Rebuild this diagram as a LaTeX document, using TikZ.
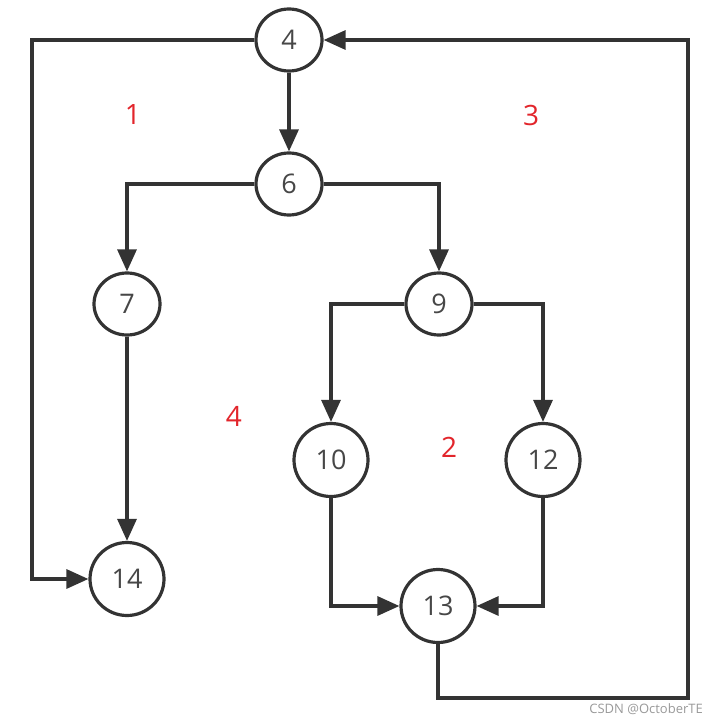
\documentclass[tikz,border=0pt]{standalone}
\usepackage{fontspec}
\setmainfont{Open Sans}
\usetikzlibrary{arrows.meta, shapes.geometric}

\definecolor{edgegray}{HTML}{333333}
\definecolor{labelred}{HTML}{E2252B}

\begin{document}
\begin{tikzpicture}[x=1pt, y=-1pt,
	vertex/.style={ellipse, draw=edgegray, line width=3.2pt, fill=white,
		minimum width=66pt, minimum height=62pt, inner sep=0pt,
		font=\fontsize{27}{27}\selectfont, text=edgegray!90},
	bigvertex/.style={vertex, minimum width=74pt, minimum height=73pt},
	flow/.style={draw=edgegray, line width=3.2pt,
		-{Triangle[length=22pt, width=19pt]}},
	region/.style={text=labelred, font=\fontsize{28}{28}\selectfont}]
	
	\useasboundingbox (0,0) rectangle (718,722);
	
	% nodes
	\node[vertex] (n4) at (289,40) {4};
	\node[vertex] (n6) at (289,184) {6};
	\node[vertex] (n7) at (127,304) {7};
	\node[vertex] (n9) at (439,304) {9};
	\node[bigvertex] (n10) at (331,460) {10};
	\node[bigvertex] (n12) at (543,460) {12};
	\node[bigvertex] (n13) at (438,606) {13};
	\node[bigvertex] (n14) at (127,579) {14};
	
	% corners of the two outer loops
	\coordinate (leftturn) at (32,40);
	\coordinate (bottomturn) at (688,698);
	
	% edges
	\draw[flow] (n4) -- (n6);
	\draw[flow] (n6.west) -| (n7.north);
	\draw[flow] (n6.east) -| (n9.north);
	\draw[flow] (n9.west) -| (n10.north);
	\draw[flow] (n9.east) -| (n12.north);
	\draw[flow] (n7) -- (n14);
	\draw[flow] (n10.south) |- (n13.west);
	\draw[flow] (n12.south) |- (n13.east);
	\draw[flow] (n13.south) |- (bottomturn) |- (n4.east);
	\draw[flow] (n4.west) -- (leftturn) |- (n14.west);
	
	% regions
	\node[region] (r1) at (133,115) {1};
	\node[region] (r3) at (531,115) {3};
	\node[region] (r4) at (234,416) {4};
	\node[region] (r2) at (449,447) {2};
	
	\node[anchor=south east, text=gray!80, font=\fontsize{13}{13}\selectfont,
		inner sep=0pt] (mark) at (703,715) {CSDN @OctoberTE};
	
\end{tikzpicture}
\end{document}
